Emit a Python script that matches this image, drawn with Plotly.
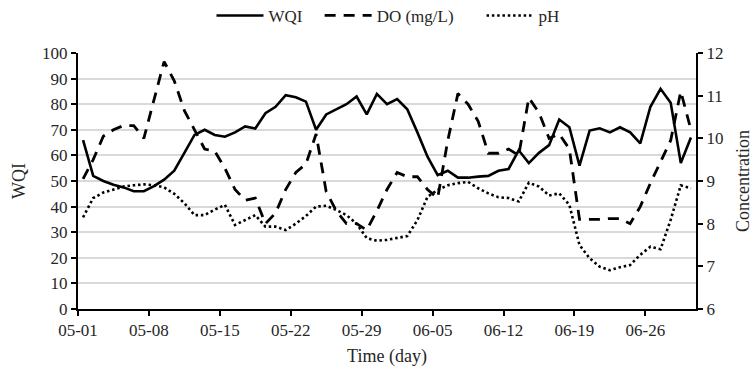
import pandas as pd
import plotly.graph_objects as go

start_date = "2021-05-01"
n_days = 61

wqi = [66, 52, 50, 48.5, 47.5, 46, 46, 48, 50.5, 54, 61, 68, 70, 68, 67.3, 69, 71.3, 70.5,
       76.5, 79, 83.5, 82.7, 81, 70, 76, 78, 80, 83, 76, 84, 80, 82, 78, 69, 59.5, 52.3,
       54, 51.3, 51.3, 51.7, 52, 54, 54.7, 62, 57, 61, 64, 74, 71, 56, 69.7, 70.6, 69, 71,
       69, 64.7, 79, 86, 80.6, 57, 67]
do = [9.05, 9.5, 10.05, 10.2, 10.3, 10.3, 10.0, 10.9, 11.8, 11.35, 10.65, 10.2, 9.75, 9.7,
      9.3, 8.8, 8.55, 8.6, 8.0, 8.25, 8.8, 9.2, 9.4, 10.1, 8.75, 8.3, 8.0, 8.0, 7.85, 8.3,
      8.8, 9.2, 9.1, 9.1, 8.8, 8.6, 9.95, 11.05, 10.8, 10.4, 9.65, 9.65, 9.75, 9.6, 10.95,
      10.6, 10.0, 10.1, 9.75, 8.1, 8.1, 8.1, 8.12, 8.12, 8.0, 8.4, 8.95, 9.45, 9.95, 11.1, 10.2]
ph = [8.15, 8.6, 8.73, 8.8, 8.87, 8.9, 8.92, 8.9, 8.85, 8.7, 8.48, 8.2, 8.2, 8.33, 8.44,
      7.97, 8.08, 8.2, 7.93, 7.93, 7.85, 8.0, 8.18, 8.4, 8.42, 8.32, 8.2, 8.0, 7.66, 7.6,
      7.62, 7.66, 7.71, 8.08, 8.63, 8.79, 8.9, 8.95, 8.98, 8.83, 8.71, 8.62, 8.6, 8.52,
      8.96, 8.87, 8.66, 8.71, 8.44, 7.5, 7.19, 6.99, 6.91, 6.98, 7.03, 7.27, 7.46, 7.4,
      8.09, 8.9, 8.83]

wqi_range = [0, 100]
conc_range = [6, 12]

# points sit at the middle of each day slot (Excel date axis, between tick marks)
days = pd.date_range(start_date, periods=n_days, freq="D") + pd.Timedelta(hours=12)
x_range = [pd.Timestamp(start_date), pd.Timestamp(start_date) + pd.Timedelta(days=n_days)]

FONT = "Liberation Serif"
TXT = "#262626"
fig = go.Figure()
fig.add_trace(go.Scatter(x=days, y=wqi, name="WQI", mode="lines", legend="legend",
                         line=dict(color="black", width=2.6)))
fig.add_trace(go.Scatter(x=days, y=do, name="DO (mg/L)", mode="lines", yaxis="y2",
                         legend="legend2",
                         line=dict(color="black", width=2.8, dash="11px,8px")))
fig.add_trace(go.Scatter(x=days, y=ph, name="pH", mode="lines", yaxis="y2",
                         legend="legend3",
                         line=dict(color="black", width=2.6, dash="2.5px,2.8px")))

tick_font = dict(family=FONT, size=17, color=TXT)
title_font = dict(family=FONT, size=18, color=TXT)
legend_font = dict(family=FONT, size=17, color=TXT)
axis_common = dict(showline=True, linecolor="black", linewidth=2, ticks="outside",
                   ticklen=5, tickwidth=2, tickcolor="black", zeroline=False,
                   tickfont=tick_font)
# companion axes that only draw the inner half of each tick (Excel "cross" ticks)
inner_common = dict(showline=False, ticks="inside", ticklen=5, tickwidth=2,
                    tickcolor="black", showticklabels=False, showgrid=False,
                    zeroline=False)
legend_common = dict(orientation="h", xanchor="left", y=1.145, yanchor="middle",
                     font=legend_font, itemwidth=47, bgcolor="rgba(0,0,0,0)")

fig.update_layout(
    width=753, height=367,
    margin=dict(l=78, r=57, t=53, b=58, autoexpand=False),
    paper_bgcolor="white", plot_bgcolor="white",
    font=dict(family=FONT, size=17, color=TXT),
    showlegend=True,
    legend=dict(x=0.216, **legend_common),
    legend2=dict(x=0.391, **legend_common),
    legend3=dict(x=0.653, **legend_common),
    xaxis=dict(range=x_range, type="date", tickformat="%m-%d", dtick=7 * 86400000,
               tick0=start_date, showgrid=False, automargin=False,
               title=dict(text="Time (day)", font=title_font, standoff=11),
               **axis_common),
    xaxis2=dict(range=x_range, type="date", dtick=7 * 86400000, tick0=start_date,
                overlaying="x", anchor="y", side="bottom", **inner_common),
    yaxis=dict(range=wqi_range, dtick=10, showgrid=True, gridcolor="#d9d9d9", gridwidth=1.5,
               automargin=False,
               title=dict(text="WQI", font=title_font, standoff=12),
               **axis_common),
    yaxis2=dict(range=conc_range, dtick=1, overlaying="y", side="right", showgrid=False,
                automargin=False,
                title=dict(text="Concentration", font=title_font, standoff=16),
                **axis_common),
    yaxis3=dict(range=wqi_range, dtick=10, overlaying="y", side="left", anchor="x",
                **inner_common),
    yaxis4=dict(range=conc_range, dtick=1, overlaying="y", side="right", anchor="x",
                **inner_common),
)

fig.write_html("out.html")
